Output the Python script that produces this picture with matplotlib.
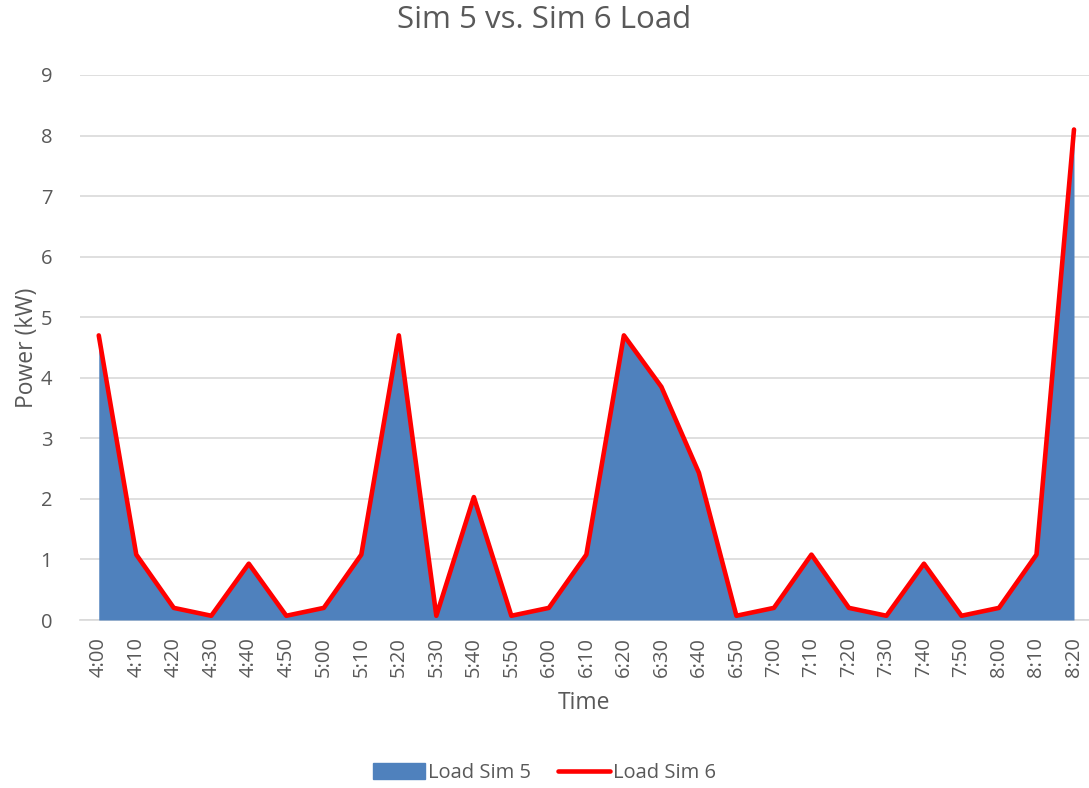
import matplotlib
matplotlib.use("Agg")
from matplotlib import pyplot as plt
from matplotlib.patches import Patch
from matplotlib.lines import Line2D
import numpy as np

plt.rcParams['font.family'] = ['Open Sans', 'DejaVu Sans']

# time labels, every 10 minutes
times = ['4:00', '4:10', '4:20', '4:30', '4:40', '4:50', '5:00', '5:10', '5:20',
         '5:30', '5:40', '5:50', '6:00', '6:10', '6:20', '6:30', '6:40', '6:50',
         '7:00', '7:10', '7:20', '7:30', '7:40', '7:50', '8:00', '8:10', '8:20']

# load in kW
sim5 = [4.7, 1.08, 0.2, 0.07, 0.93, 0.07, 0.2, 1.08, 4.7,
        0.07, 2.03, 0.07, 0.2, 1.08, 4.7, 3.85, 2.43, 0.07,
        0.2, 1.08, 0.2, 0.07, 0.93, 0.07, 0.2, 1.08, 8.1]
sim6 = [4.7, 1.08, 0.2, 0.07, 0.93, 0.07, 0.2, 1.08, 4.7,
        0.07, 2.03, 0.07, 0.2, 1.08, 4.7, 3.85, 2.43, 0.07,
        0.2, 1.08, 0.2, 0.07, 0.93, 0.07, 0.2, 1.08, 8.1]

grey = '#595959'
blue = '#4F81BD'

fig = plt.figure(figsize=(10.89, 7.88), dpi=100)
ax = fig.add_axes([80/1089, 1-620/788, 1-80/1089, (620-75)/788])

x = np.arange(len(times))
ax.fill_between(x, 0, sim5, color=blue, lw=0, zorder=2)
ax.plot(x, sim6, color='#FF0000', lw=3.3, solid_joinstyle='round',
        solid_capstyle='round', zorder=3)

ax.set_xlim(-0.5, 26.4)
ax.set_ylim(0, 9)
ax.set_yticks(range(10))
ax.yaxis.grid(True, color='#D9D9D9', lw=1.2)
ax.set_axisbelow(True)
for s in ['top', 'right', 'left']:
    ax.spines[s].set_visible(False)
ax.spines['bottom'].set_color('#D9D9D9')
ax.spines['bottom'].set_linewidth(1.2)
ax.spines['bottom'].set_zorder(1)

ax.set_xticks(x)
ax.set_xticklabels(times, rotation=90)
ax.tick_params(axis='both', length=0, labelsize=14.5, colors=grey)
ax.tick_params(axis='y', pad=20)
ax.tick_params(axis='x', pad=12)

ax.set_xlabel('Time', fontsize=16.5, color=grey, labelpad=10)
ax.set_ylabel('Power (kW)', fontsize=16.5, color=grey, labelpad=1)
fig.text(0.5, 1-20/788, 'Sim 5 vs. Sim 6 Load', ha='center', va='center',
         fontsize=22.5, color=grey)

handles = [Patch(color=blue, label='Load Sim 5'),
           Line2D([], [], color='#FF0000', lw=3.3, solid_capstyle='round', label='Load Sim 6')]
leg = fig.legend(handles=handles, loc='center', bbox_to_anchor=(0.5, 1-773/788),
                 ncol=2, frameon=False, fontsize=14.5, handlelength=2.6,
                 handleheight=0.8, handletextpad=0.15, columnspacing=1.3)
for t in leg.get_texts():
    t.set_color(grey)

fig.savefig('out.png', dpi=100)
